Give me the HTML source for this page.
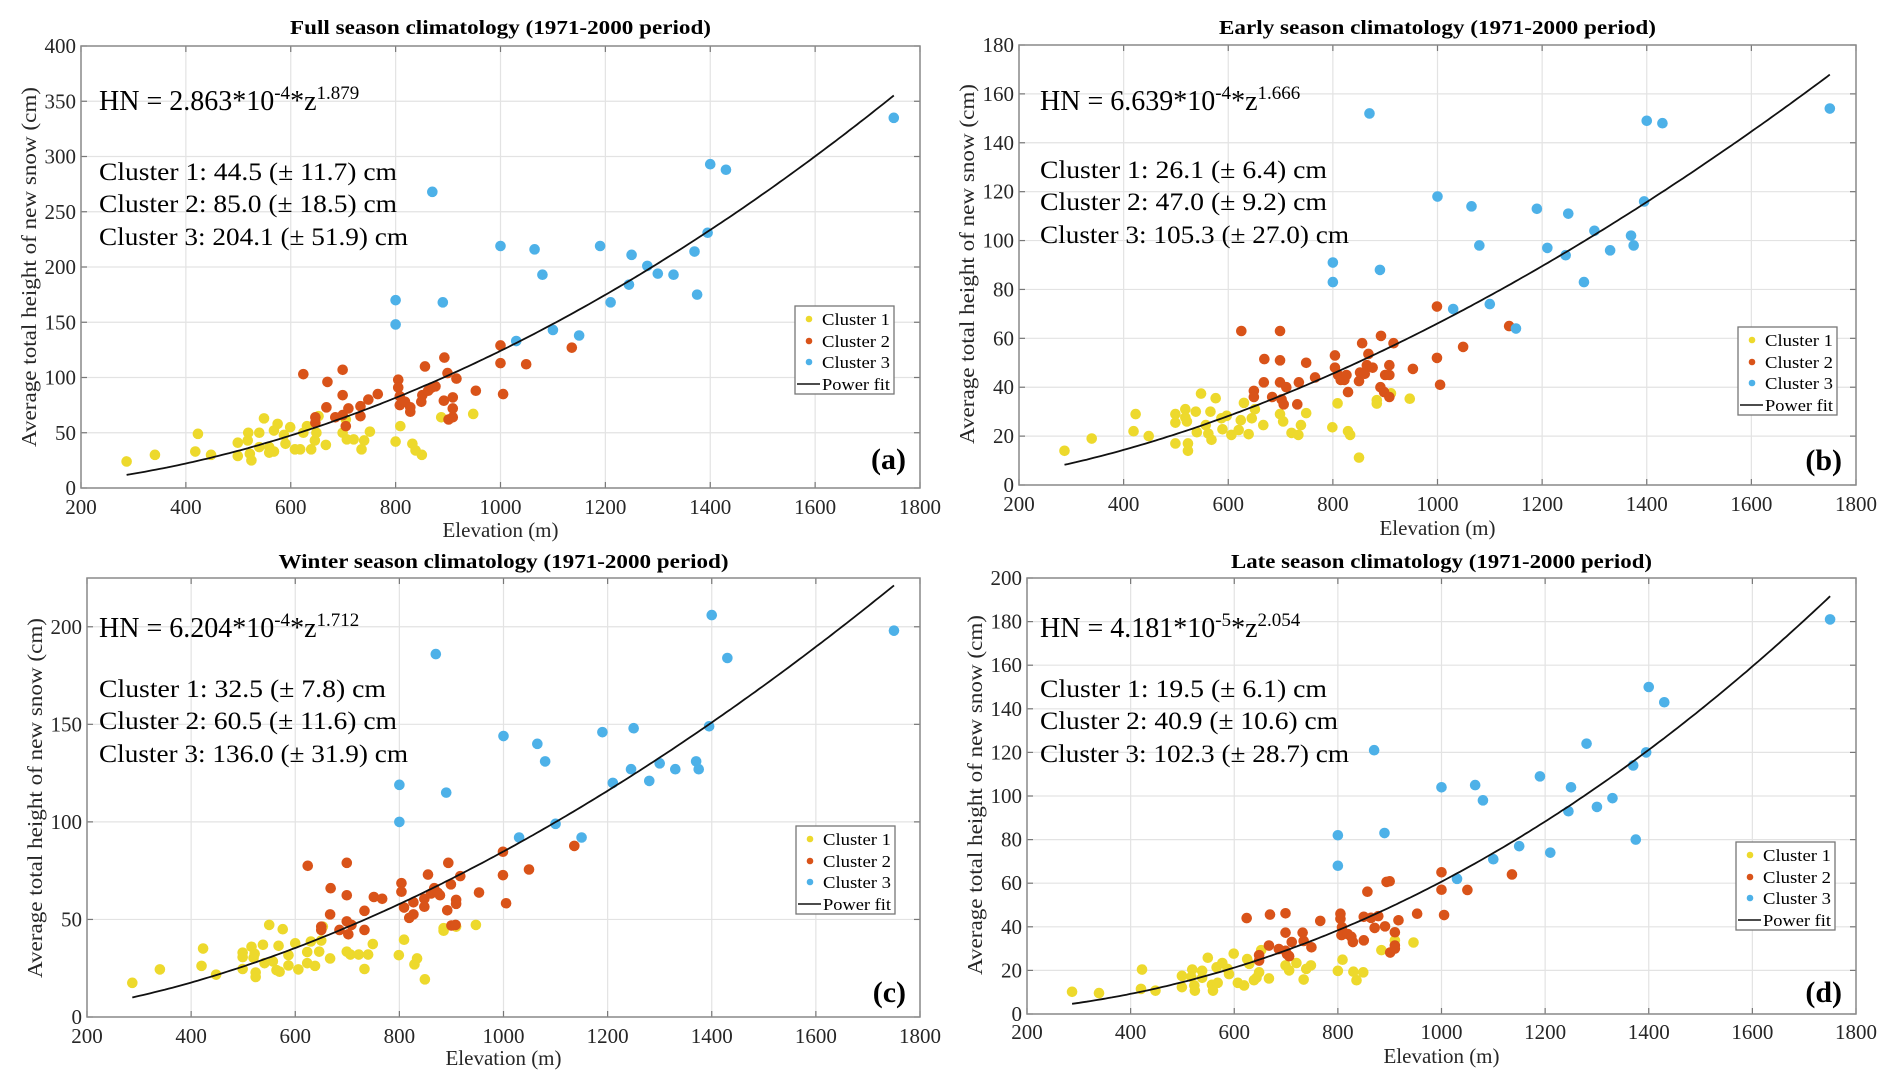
<!DOCTYPE html>
<html><head><meta charset="utf-8"><style>
html,body{margin:0;padding:0;background:#fff;}
svg{display:block;font-family:"Liberation Serif",serif;}
</style></head><body>
<svg id="fig" width="1892" height="1087" viewBox="0 0 1892 1087" xmlns="http://www.w3.org/2000/svg"></svg>
<script>
// ---- Panel (a) Full season ----
const aC1Elev=[287,341,418,423,448,499,499,519,518,522,525,540,540,549,559,559,568,568,575,587,590,599,608,618,624,631,639,646,649,653,667,699,705,707,720,735,740,751,800,809,832,838,850,887,948];
const aC1Snow=[24,30,33,49,30,41,29,50,43,31,25,50,37,63,37,32,52,33,58,48,40,55,35,35,50,56,35,43,50,65,39,50,62,44,44,35,43,51,42,56,40,34,30,64,67];
const aC2Elev=[624,670,699,699,668,647,647,685,699,705,710,733,733,748,766,805,805,808,808,818,828,828,849,851,856,862,869,876,893,892,899,901,909,909,909,916,953,1000,1000,1005,1049,1136];
const aC2Snow=[103,96,107,84,73,64,59,64,66,56,72,65,74,80,85,98,91,83,75,78,69,73,78,84,110,88,91,92,118,79,104,62,82,72,64,99,88,129,113,85,112,127];
const aC3Elev=[800,800,870,890,1000,1030,1065,1080,1100,1150,1190,1210,1245,1250,1280,1300,1330,1370,1375,1395,1400,1430,1750];
const aC3Snow=[170,148,268,168,219,133,216,193,143,138,219,168,184,211,201,194,193,214,175,231,293,288,335];
// ---- Panel (b) Early season ----
const bC1Elev=[287,339,419,423,448,499,499,499,518,518,521,523,523,538,540,548,557,562,566,568,576,587,589,597,606,620,624,630,639,645,651,667,699,705,721,734,739,749,799,809,829,833,850,884,884,911,947];
const bC1Snow=[14,19,22,29,20,29,25.5,17,31,27.6,26,17,14,30,21.6,37.4,24.5,21,30,18.5,35.5,27.3,22.8,28.3,20.5,22.5,26.5,33.6,20.8,27.3,31,24.5,29,26,21.3,20.5,24.5,29.4,23.6,33.4,22,20.5,11.2,34.7,33.3,37.5,35.3];
const bC2Elev=[625,699,669,699,749,649,649,668,684,699,702,706,711,732,735,766,804,804,810,815,822,826,829,850,852,856,861,865,868,876,892,891,898,900,908,908,908,916,953,999,999,1005,1049,1137];
const bC2Snow=[63,63,51.5,51,50,38.5,36,42,36,42,35,33,40,33,42,44,53,48,45,43,43,45,38,42.5,46,58,45.5,49,53.6,48,61,40,38,45,49,45,36,58,47.5,73,52,41,56.5,65];
const bC3Elev=[800,800,870,890,1000,1030,1065,1080,1100,1150,1190,1210,1245,1250,1280,1300,1330,1370,1375,1395,1400,1430,1750];
const bC3Snow=[91,83,152,88,118,72,114,98,74,64,113,97,94,111,83,104,96,102,98,116,149,148,154];
// ---- Panel (c) Winter season ----
const cC1Elev=[287,340,420,423,448,499,499,499,516,520,522,524,524,538,541,550,557,564,568,570,576,587,587,600,606,623,623,630,638,646,650,653,667,699,706,722,733,740,749,799,809,829,834,849,885,885,909,947];
const cC1Snow=[17.5,24.4,26.2,35.1,21.7,33,30.7,24.6,36,30.3,32.4,22.8,20.5,37,27.6,47.2,28.5,24,36.5,23.2,45,31.7,26.4,37.8,24.4,27.6,33.3,38.7,26.2,33.5,39.2,46.3,30,33.5,32,32,24.6,32,37.4,31.7,39.6,27,30,19.3,44.2,45.5,46.3,47.2];
const cC2Elev=[624,699,668,699,667,650,650,685,699,702,708,733,733,751,767,804,804,809,819,827,827,848,848,855,861,867,874,878,894,892,899,900,908,909,909,917,953,999,999,1005,1049,1136];
const cC2Snow=[77.5,79,66,62.4,52.6,46.3,44.6,44.6,49,42.4,47.2,54.4,44.6,61.5,60.6,68.6,64.2,56.1,50.8,58.8,52.6,60.6,56.5,73,63.3,66,63.6,62.4,79,54.7,68,46.9,47.2,60,58,72.2,63.8,84.7,72.7,58.3,75.6,87.7];
const cC3Elev=[800,800,870,890,1000,1030,1065,1080,1100,1150,1190,1210,1245,1250,1280,1300,1330,1370,1375,1395,1400,1430,1750];
const cC3Snow=[119,100,186,115,144,92,140,131,99,92,146,120,127,148,121,130,127,131,127,149,206,184,198];
// ---- Panel (d) Late season ----
const dC1Elev=[287,339,420,422,448,499,499,517,519,523,524,538,538,549,557,559,566,568,577,587,590,599,607,619,625,629,638,643,648,652,667,699,706,720,734,739,748,800,809,830,836,849,884,910,946];
const dC1Snow=[10.2,9.6,11.5,20.4,10.7,17.5,12.3,17,20.4,13.1,10.7,19.8,16.6,25.8,13.4,10.7,21.4,14.3,23.4,20.7,18.3,27.7,14.3,13.1,25.2,23,15.5,16.6,19.1,29.3,16.3,22.3,20,23.4,15.8,20.7,22.3,19.8,24.9,19.4,15.5,19.1,29.3,33.8,32.8];
const dC2Elev=[624,669,699,766,699,732,667,686,699,702,706,711,734,749,648,648,805,805,808,807,819,826,829,850,857,850,864,871,878,891,894,900,901,910,910,910,917,953,1000,1000,1005,1050,1136];
const dC2Snow=[44,45.6,46.2,42.7,37.3,37.3,31.4,29.8,29,27.4,26.5,33,33.5,30.6,27,24.5,46,43.7,39.8,36.2,36.7,35.4,33,33.8,56.1,44.6,44.1,39.5,44.9,40.2,60.6,60.9,28.2,37.5,31.4,30,43,46,65,57,45.4,56.9,64];
const dC3Elev=[800,800,870,890,1000,1030,1065,1080,1100,1150,1190,1210,1245,1250,1280,1300,1330,1370,1375,1395,1400,1430,1750];
const dC3Snow=[82,68,121,83,104,62,105,98,71,77,109,74,93,104,124,95,99,114,80,120,150,143,181];
// ---- Fit parameters & ticks ----
const fitCoef=[2.863e-4,6.639e-4,6.204e-4,4.181e-5];
const fitExp=[1.879,1.666,1.712,2.054];
const xTicks=[200,400,600,800,1000,1200,1400,1600,1800];
const yTicksA=[0,50,100,150,200,250,300,350,400];
const yTicksB=[0,20,40,60,80,100,120,140,160,180];
const yTicksC=[0,50,100,150,200];
const yTicksD=[0,20,40,60,80,100,120,140,160,180,200];

const NS="http://www.w3.org/2000/svg";
const svg=document.getElementById('fig');
function mk(tag,attrs,parent,txt){const e=document.createElementNS(NS,tag);for(const k in attrs)e.setAttribute(k,attrs[k]);if(txt!==undefined)e.textContent=txt;(parent||svg).appendChild(e);return e;}
const COL=['#EDD92C','#D95319','#4DB1E8'];

const panels=[
 {id:'a',title:'Full season climatology (1971-2000 period)',tl:421,ty:34,L:81,R:920,T:46,B:488,ymax:400,yt:yTicksA,
  c:[[aC1Elev,aC1Snow],[aC2Elev,aC2Snow],[aC3Elev,aC3Snow]],coef:'2.863',pw:'-4',ex:'1.879',hnY:110,cl:['Cluster 1: 44.5 (± 11.7) cm','Cluster 2: 85.0 (± 18.5) cm','Cluster 3: 204.1 (± 51.9) cm'],clY:[180,212,245],tx:99,
  lg:[795,306],xlY:514,xlabY:537,ylX:29,ylY:267,plY:469},
 {id:'b',title:'Early season climatology (1971-2000 period)',tl:437,ty:34,L:1019,R:1856,T:45,B:485,ymax:180,yt:yTicksB,
  c:[[bC1Elev,bC1Snow],[bC2Elev,bC2Snow],[bC3Elev,bC3Snow]],coef:'6.639',pw:'-4',ex:'1.666',hnY:110,cl:['Cluster 1: 26.1 (± 6.4) cm','Cluster 2: 47.0 (± 9.2) cm','Cluster 3: 105.3 (± 27.0) cm'],clY:[178,210,243],tx:1040,
  lg:[1738,327],xlY:511,xlabY:535,ylX:967,ylY:264,plY:470},
 {id:'c',title:'Winter season climatology (1971-2000 period)',tl:450,ty:568,L:87,R:920,T:578,B:1017,ymax:225,yt:yTicksC,
  c:[[cC1Elev,cC1Snow],[cC2Elev,cC2Snow],[cC3Elev,cC3Snow]],coef:'6.204',pw:'-4',ex:'1.712',hnY:637,cl:['Cluster 1: 32.5 (± 7.8) cm','Cluster 2: 60.5 (± 11.6) cm','Cluster 3: 136.0 (± 31.9) cm'],clY:[697,729,762],tx:99,
  lg:[796,826],xlY:1043,xlabY:1065,ylX:35,ylY:798,plY:1002},
 {id:'d',title:'Late season climatology (1971-2000 period)',tl:421,ty:568,L:1027,R:1856,T:578,B:1014,ymax:200,yt:yTicksD,
  c:[[dC1Elev,dC1Snow],[dC2Elev,dC2Snow],[dC3Elev,dC3Snow]],coef:'4.181',pw:'-5',ex:'2.054',hnY:637,cl:['Cluster 1: 19.5 (± 6.1) cm','Cluster 2: 40.9 (± 10.6) cm','Cluster 3: 102.3 (± 28.7) cm'],clY:[697,729,762],tx:1040,
  lg:[1736,842],xlY:1039,xlabY:1063,ylX:975,ylY:795,plY:1002}
];

panels.forEach((p,pi)=>{
  const g=mk('g',{});
  
  
  const xs=v=>p.L+(v-200)/1600*(p.R-p.L);
  const ys=v=>p.B-v/p.ymax*(p.B-p.T);
  // grid
  xTicks.forEach(t=>{const l=mk('line',{x1:xs(t),x2:xs(t),y1:p.T,y2:p.B,stroke:'#e3e3e3','stroke-width':1.2},g);
    
    });
  p.yt.forEach(t=>{const l=mk('line',{x1:p.L,x2:p.R,y1:ys(t),y2:ys(t),stroke:'#e3e3e3','stroke-width':1.2},g);
    
    });
  // ticks
  xTicks.forEach(t=>{mk('line',{x1:xs(t),x2:xs(t),y1:p.B,y2:p.B-6,stroke:'#777','stroke-width':1.2},g);mk('line',{x1:xs(t),x2:xs(t),y1:p.T,y2:p.T+6,stroke:'#777','stroke-width':1.2},g);
    const tx=mk('text',{x:xs(t),y:p.xlY,'font-size':21,'text-anchor':'middle',fill:'#262626'},g,String(t));
    
    });
  p.yt.forEach(t=>{mk('line',{x1:p.L,x2:p.L+6,y1:ys(t),y2:ys(t),stroke:'#777','stroke-width':1.2},g);mk('line',{x1:p.R,x2:p.R-6,y1:ys(t),y2:ys(t),stroke:'#777','stroke-width':1.2},g);
    const tx=mk('text',{x:p.L-5,y:ys(t)+7,'font-size':21,'text-anchor':'end',fill:'#262626'},g,String(t));
    
    });
  // fit curve
  let d='';for(let z=287;z<=1750;z+=7){const v=fitCoef[pi]*Math.pow(z,fitExp[pi]);d+=(d?'L':'M')+xs(z).toFixed(1)+','+ys(v).toFixed(1);}
  {const z=1750,v=fitCoef[pi]*Math.pow(z,fitExp[pi]);d+='L'+xs(z).toFixed(1)+','+ys(v).toFixed(1);}
  // points
  p.c.forEach((s,ci)=>{s[0].forEach((e,i)=>{const c=mk('ellipse',{cx:xs(e),cy:ys(s[1][i]),rx:5.3,ry:5.3,fill:COL[ci]},g);
    
    });});
  const fp=mk('path',{d:d,fill:'none',stroke:'#111','stroke-width':1.8},g);
  
  
  // box
  const bx=mk('rect',{x:p.L,y:p.T,width:p.R-p.L,height:p.B-p.T,fill:'none',stroke:'#8a8a8a','stroke-width':1.5},g);
  
  
  // title
  const ti=mk('text',{x:(p.L+p.R)/2,y:p.ty,'font-size':20,'font-weight':'bold','text-anchor':'middle',textLength:p.tl,lengthAdjust:'spacingAndGlyphs',fill:'#000'},g,p.title);
  
  
  // axis labels
  const xl=mk('text',{x:(p.L+p.R)/2,y:p.xlabY,'font-size':21,'text-anchor':'middle',fill:'#262626'},g,'Elevation (m)');
  
  
  const yl=mk('text',{x:0,y:0,'font-size':21,'text-anchor':'middle',fill:'#262626',textLength:360,lengthAdjust:'spacingAndGlyphs',transform:'translate('+(p.ylX+7)+','+p.ylY+') rotate(-90)'},g,'Average total height of new snow (cm)');
  
  
  // equation
  const hn=mk('text',{x:p.tx,y:p.hnY,'font-size':28,fill:'#000'},g);
  
  
  mk('tspan',{},hn,'HN = '+p.coef+'*10');
  mk('tspan',{dy:-11,'font-size':19},hn,p.pw);
  mk('tspan',{dy:11,'font-size':28},hn,'*z');
  mk('tspan',{dy:-11,'font-size':19},hn,p.ex);
  p.cl.forEach((t,i)=>{const c=mk('text',{x:p.tx,y:p.clY[i],'font-size':25,fill:'#000',textLength:(t.length*11.05).toFixed(0),lengthAdjust:'spacingAndGlyphs'},g,t);
    
    });
  // panel label
  const pl=mk('text',{x:p.R-14,y:p.plY,'font-size':30,'font-weight':'bold','text-anchor':'end',fill:'#000'},g,'('+p.id+')');
  
  
  // legend
  const lx=p.lg[0],ly=p.lg[1];
  const lg=mk('g',{},g);
  
  
  mk('rect',{x:lx,y:ly,width:99,height:88,fill:'#fff',stroke:'#777','stroke-width':1.3},lg);
  const names=['Cluster 1','Cluster 2','Cluster 3','Power fit'];const rows=[13,35,56,78];
  names.forEach((n,i)=>{
    if(i<3){mk('circle',{cx:lx+14,cy:ly+rows[i],r:3.3,fill:COL[i]},lg);}
    else{mk('line',{x1:lx+2,x2:lx+25,y1:ly+rows[i],y2:ly+rows[i],stroke:'#111','stroke-width':1.6},lg);}
    const t=mk('text',{x:lx+27,y:ly+rows[i]+6,'font-size':17,fill:'#000',textLength:i<3?68:68,lengthAdjust:'spacingAndGlyphs'},lg,n);
    
    
  });
});
</script>
</body></html>
